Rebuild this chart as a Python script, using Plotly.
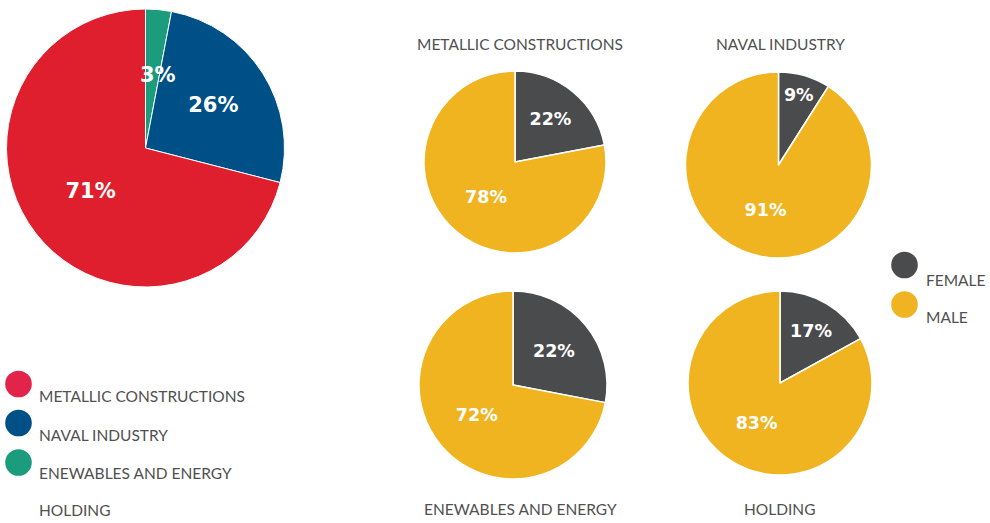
import math
import plotly.graph_objects as go

# ---------------- data ----------------
sectors = ["METALLIC CONSTRUCTIONS", "NAVAL INDUSTRY", "ENEWABLES AND ENERGY", "HOLDING"]
sector_share = [71, 26, 3, 0]
sector_colors = ["#DF1F2D", "#005088", "#1B9C7D", "#FFFFFF"]
legend_dot_colors = ["#E2234A", "#005088", "#1B9C7D", None]

genders = ["FEMALE", "MALE"]
gender_colors = ["#4A4B4D", "#EFB41F"]
female_share = [22, 9, 28, 17]          # slice sizes as drawn
male_share = [78, 91, 72, 83]
female_text = ["22%", "9%", "22%", "17%"]  # labels as printed
male_text = ["78%", "91%", "72%", "83%"]

W, H = 990, 523
LABEL_FONT = "DejaVu Sans"

def px_x(x):
    return x / W

def px_y(y):
    return 1 - y / H

def dom(cx, cy, r):
    return dict(x=[px_x(cx - r), px_x(cx + r)], y=[px_y(cy + r), px_y(cy - r)])

fig = go.Figure()
annotations = []
shapes = []

# big pie (sector split) - drawn clockwise from 12 o'clock, last sector first
BIG = (145.5, 148, 139)
idx = [i for i in reversed(range(len(sectors))) if sector_share[i] > 0]
big_vals = [sector_share[i] for i in idx]
total = sum(big_vals)
SMALL_SLICE = 5  # percent; labels of thinner slices are placed as annotations
big_text = [f"{v / total:.0%}" if v >= SMALL_SLICE else "" for v in big_vals]
fig.add_trace(go.Pie(
    labels=[sectors[i] for i in idx],
    values=big_vals,
    text=big_text,
    marker=dict(colors=[sector_colors[i] for i in idx], line=dict(color="white", width=1)),
    sort=False, direction="clockwise", rotation=0,
    textinfo="text", textposition="inside", insidetextorientation="horizontal",
    textfont=dict(family=LABEL_FONT, size=21, color="white", weight="bold"),
    domain=dom(*BIG), showlegend=False, hoverinfo="label+percent",
))
# labels for thin slices: at the slice's mid-angle, half-way out
cum = 0
for v in big_vals:
    mid = math.radians((cum + v / 2) / total * 360)
    cum += v
    if v < SMALL_SLICE:
        cx, cy, r = BIG
        annotations.append(dict(
            x=px_x(cx + 0.55 * r * math.sin(mid) + 5), y=px_y(cy - 0.53 * r * math.cos(mid)),
            xref="paper", yref="paper", text=f"{v / total:.0%}", showarrow=False,
            font=dict(family=LABEL_FONT, size=21, color="white", weight="bold"),
            xanchor="center", yanchor="middle"))

# small pies (gender split per sector)
pie_geom = [(515, 162, 91), (778.5, 165, 93), (513, 385, 94), (780, 383, 92)]
for k in range(4):
    cx, cy, r = pie_geom[k]
    fig.add_trace(go.Pie(
        labels=genders,
        values=[female_share[k], male_share[k]],
        text=[female_text[k], male_text[k]],
        marker=dict(colors=gender_colors, line=dict(color="white", width=1.5)),
        sort=False, direction="clockwise", rotation=0,
        textinfo="text", textposition="inside", insidetextorientation="horizontal",
        textfont=dict(family=LABEL_FONT, size=17.5, color="white", weight="bold"),
        domain=dom(cx, cy, r), showlegend=False, name=sectors[k],
    ))

title_font = dict(family="Lato", size=15.5, color="#505050", weight=400)

# small pie titles
title_pos = [(520, 44), (780, 44), (520, 509), (780, 509)]
for k in range(4):
    x, y = title_pos[k]
    annotations.append(dict(x=px_x(x), y=px_y(y), xref="paper", yref="paper",
                            text=sectors[k], showarrow=False, font=title_font,
                            xanchor="center", yanchor="middle"))

def dot(cx, cy, r, color):
    shapes.append(dict(type="circle", xref="paper", yref="paper",
                       x0=px_x(cx - r), x1=px_x(cx + r), y0=px_y(cy + r), y1=px_y(cy - r),
                       fillcolor=color, line=dict(width=0)))

# left legend
dot_y = [384, 423, 462.5]
text_y = [396, 434.5, 473, 509.5]
for k in range(4):
    if legend_dot_colors[k]:
        dot(18.5, dot_y[k], 13.3, legend_dot_colors[k])
    annotations.append(dict(x=px_x(37), y=px_y(text_y[k]), xref="paper", yref="paper",
                            text=sectors[k], showarrow=False, font=title_font,
                            xanchor="left", yanchor="middle"))

# right legend
g_dot_y = [265, 304.5]
g_text_y = [279.5, 316.5]
g_dot_colors = ["#4A4B4D", "#F0B321"]
for k in range(2):
    dot(904.5, g_dot_y[k], 13.3, g_dot_colors[k])
    annotations.append(dict(x=px_x(924), y=px_y(g_text_y[k]), xref="paper", yref="paper",
                            text=genders[k], showarrow=False, font=title_font,
                            xanchor="left", yanchor="middle"))

fig.update_layout(
    width=W, height=H,
    margin=dict(l=0, r=0, t=0, b=0),
    paper_bgcolor="white", plot_bgcolor="white",
    annotations=annotations, shapes=shapes,
)

fig.write_html("out.html", config={"displayModeBar": False},
               post_script="document.body.style.margin='0';document.body.style.overflow='hidden';")
